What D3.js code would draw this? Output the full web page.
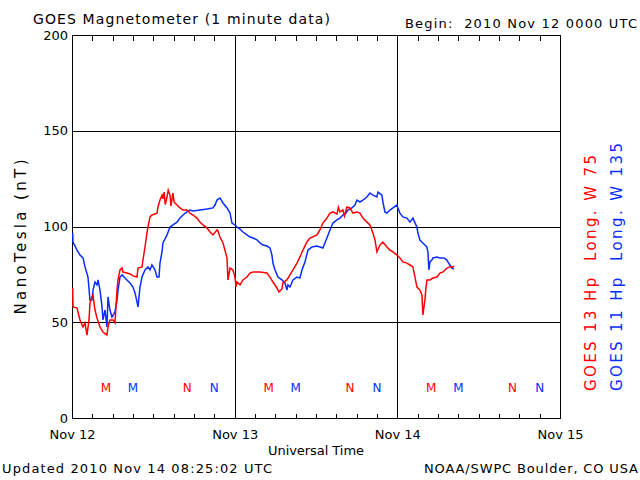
<!DOCTYPE html>
<html><head><meta charset="utf-8">
<script src="https://cdn.jsdelivr.net/npm/d3@7"></script>
<style>body{margin:0;background:#fff}svg{display:block}text{font-family:"DejaVu Sans",sans-serif}</style>
</head><body><svg id="c" width="640" height="480"></svg>
<script>
// hours since 2010 Nov 12 00:00 UTC
const goes13Hours = [0.1,0.15,0.74,1.18,1.62,1.92,2.21,2.51,2.65,2.95,3.1,3.39,3.69,4.13,4.57,5.16,5.31,5.6,6.05,6.34,6.64,6.79,7.08,7.38,7.52,8.11,8.56,9.0,9.59,9.74,10.33,10.47,10.77,11.06,11.21,11.51,11.8,12.54,12.69,12.98,13.28,13.42,13.6,13.75,14.02,14.2,14.46,14.6,14.9,15.05,15.2,15.49,15.93,16.38,16.96,17.41,17.85,18.44,18.88,19.33,19.92,20.36,20.8,21.39,21.54,21.83,22.28,22.87,23.01,23.31,23.75,24.04,24.2,24.34,24.79,25.22,25.81,26.26,26.7,27.73,28.76,29.21,29.65,30.24,30.53,30.98,31.12,31.71,32.16,32.6,33.19,33.63,34.07,34.66,35.11,36.14,36.58,37.02,37.61,38.06,38.5,39.09,39.3,39.53,39.97,40.2,40.56,41.0,41.45,42.04,42.48,42.92,43.51,43.96,44.4,44.7,44.99,45.43,45.87,46.46,46.91,47.35,47.94,48.38,48.82,49.41,49.86,50.3,50.6,50.89,51.33,51.63,51.77,52.07,52.2,52.36,52.81,53.25,53.84,54.28,54.72,55.31,55.76,56.2,56.35];
const goes13Values = [67.9,58.0,57.4,51.2,47.5,49.6,43.3,51.2,60.1,63.2,64.2,56.4,52.2,47.5,44.9,43.3,47.5,51.2,51.2,49.6,66.8,72.1,77.3,78.3,76.2,75.7,75.2,74.2,73.6,78.3,78.9,82.5,89.3,96.6,99.7,105.0,106.0,107.0,110.2,113.8,116.4,114.4,118.0,111.5,115.4,119.0,116.4,110.8,117.5,113.0,112.3,111.2,109.7,108.6,108.6,107.0,106.0,104.4,102.3,100.8,99.2,97.1,95.6,98.2,97.7,94.5,91.4,83.6,72.1,78.3,77.3,73.6,68.5,71.0,69.5,72.1,73.6,75.7,76.2,76.2,75.7,73.6,71.0,67.9,65.8,67.4,70.5,72.1,74.7,77.3,80.9,84.1,87.7,91.9,94.0,95.6,98.2,101.8,104.4,107.0,107.6,106.5,110.0,107.6,108.6,105.5,110.2,109.7,107.0,107.6,107.0,104.4,102.3,100.8,96.6,93.0,86.7,90.3,91.9,89.3,87.7,86.7,85.1,83.6,81.5,80.9,79.9,78.9,73.6,68.4,66.8,64.2,53.8,61.6,67.0,72.1,72.1,73.1,73.6,75.7,76.2,78.3,78.9,78.9,79.4];
const goes11Hours = [0.1,0.15,0.74,1.18,1.62,1.92,2.36,2.65,2.95,3.1,3.39,3.69,3.84,4.13,4.43,4.57,4.87,5.16,5.31,5.6,5.9,6.34,6.64,6.79,7.08,7.38,7.82,8.11,8.56,9.0,9.3,9.59,9.74,10.03,10.33,10.77,11.21,11.51,11.8,12.25,12.54,12.84,12.98,13.28,13.42,14.02,14.46,14.9,15.49,15.93,16.38,16.96,17.41,17.85,18.88,19.92,20.8,21.1,21.39,21.83,22.28,22.87,23.31,23.6,24.04,24.34,24.79,25.22,25.81,26.26,26.7,27.3,27.73,28.18,28.76,29.21,29.5,29.65,29.95,30.39,30.98,31.42,31.71,31.86,32.16,32.6,33.19,33.63,33.93,34.37,34.82,35.41,36.14,36.58,37.02,37.61,38.06,38.5,39.09,39.53,39.97,40.41,40.71,41.3,41.75,42.04,42.48,42.92,43.51,43.96,44.4,44.99,45.14,45.73,45.87,46.17,46.46,46.91,47.35,47.94,48.09,48.38,48.82,49.41,49.86,50.3,50.89,51.04,51.33,51.77,52.36,52.51,52.66,52.81,53.1,53.25,53.84,54.28,54.87,55.31,55.46,55.76,56.05,56.35];
const goes11Values = [96.6,91.9,87.7,85.1,83.6,78.9,73.6,61.6,61.6,66.8,71.0,69.5,72.1,66.8,58.0,51.2,56.4,47.5,63.2,56.4,52.7,55.4,61.6,66.8,73.6,74.7,73.1,72.1,70.5,68.4,65.3,60.6,58.0,68.4,73.6,77.3,78.9,77.3,79.9,77.3,73.6,73.6,80.9,86.7,91.4,95.6,99.7,100.8,102.3,104.4,106.0,107.6,108.6,108.1,108.6,109.1,109.7,111.2,113.8,114.9,112.3,109.7,107.0,101.8,100.8,99.7,98.7,97.1,95.6,94.5,94.0,93.0,91.4,90.3,89.8,88.8,85.1,80.9,77.3,73.6,72.1,70.5,66.8,69.5,68.4,72.1,73.6,73.1,77.3,81.5,87.7,89.3,89.8,89.3,88.8,94.0,98.2,101.8,103.4,104.4,106.0,107.0,108.6,109.7,111.2,113.8,112.8,113.8,115.4,117.5,116.4,115.4,118.0,116.4,112.8,107.6,107.0,108.6,109.7,111.2,109.7,107.0,105.0,104.4,102.3,104.4,99.7,96.6,92.9,91.4,89.3,86.7,77.3,81.5,82.5,83.6,84.1,83.6,83.6,82.5,81.5,79.9,78.3,77.8];
const yTicks = [0,50,100,150,200];
const dayTicks = [0,24,48,72];
const dayLabels = ["Nov 12","Nov 13","Nov 14","Nov 15"];
const markerLabels = ["M","M","N","N"];
const markerHours = [5,9,17,21];
const markerSeries = ["13","11","13","11"];

const colors = {"13":"#ff0000","11":"#0a2dff"};
const svg = d3.select("#c");
const L=72,R=560,T=35,B=418;
const x = d3.scaleLinear().domain([0,72]).range([L,R]);
const y = d3.scaleLinear().domain([0,200]).range([B,T]);

// grid
const g = svg.append("g").attr("shape-rendering","crispEdges");
g.selectAll(".hg").data(yTicks.filter(v=>v>0&&v<200)).join("line")
  .attr("x1",L).attr("x2",R).attr("y1",d=>Math.round(y(d))+0.5).attr("y2",d=>Math.round(y(d))+0.5)
  .attr("stroke","#000");
g.selectAll(".vg").data(dayTicks.filter(v=>v>0&&v<72)).join("line")
  .attr("y1",T).attr("y2",B).attr("x1",d=>Math.round(x(d))+0.5).attr("x2",d=>Math.round(x(d))+0.5)
  .attr("stroke","#000");

// axes (minor ticks every 3h)
const minor = d3.range(0,73,3);
const topAx = d3.axisTop(x).tickValues(minor).tickSize(-5).tickFormat("");
const botAx = d3.axisBottom(x).tickValues(minor).tickSize(-5).tickFormat("");
svg.append("g").attr("transform",`translate(0,${T+0.5})`).call(topAx).call(a=>a.select(".domain").remove()).selectAll("line").attr("shape-rendering","crispEdges");
svg.append("g").attr("transform",`translate(0,${B+0.5})`).call(botAx).call(a=>a.select(".domain").remove()).selectAll("line").attr("shape-rendering","crispEdges");
const leftAx = d3.axisLeft(y).tickValues(yTicks).tickSize(0).tickPadding(4);
svg.append("g").attr("transform",`translate(${L},0)`).call(leftAx)
  .call(a=>a.select(".domain").remove())
  .selectAll("text").attr("font-size",13).attr("fill","#000").attr("font-family","DejaVu Sans");
const xLab = d3.axisBottom(x).tickValues(dayTicks).tickSize(0).tickPadding(12).tickFormat((d,i)=>dayLabels[i]);
svg.append("g").attr("transform",`translate(0,${B})`).call(xLab)
  .call(a=>a.select(".domain").remove())
  .selectAll("text").attr("font-size",13).attr("fill","#000").attr("font-family","DejaVu Sans");

svg.append("rect").attr("x",L+0.5).attr("y",T+0.5).attr("width",R-L).attr("height",B-T)
  .attr("fill","none").attr("stroke","#000").attr("shape-rendering","crispEdges");

// series
const line = d3.line().x(d=>x(d[0])).y(d=>y(d[1]));
svg.append("path").datum(goes11Hours.map((h,i)=>[h,goes11Values[i]]))
  .attr("d",line).attr("fill","none").attr("stroke",colors["11"]).attr("stroke-width",1.5);
svg.append("path").datum(goes13Hours.map((h,i)=>[h,goes13Values[i]]))
  .attr("d",line).attr("fill","none").attr("stroke",colors["13"]).attr("stroke-width",1.5);

// M/N markers
const marks=[];
[0,24,48].forEach(off=>markerHours.forEach((h,i)=>marks.push({h:h+off,t:markerLabels[i],s:markerSeries[i]})));
svg.selectAll(".mk").data(marks).join("text").attr("x",d=>x(d.h)).attr("y",392)
  .attr("text-anchor","middle").attr("font-size",12).attr("fill",d=>colors[d.s]).text(d=>d.t);

// texts
svg.append("text").attr("x",33).attr("y",24).attr("font-size",14).attr("textLength",297).text("GOES Magnetometer (1 minute data)");
svg.append("text").attr("x",405).attr("y",28).attr("font-size",13).attr("textLength",232).attr("xml:space","preserve").text("Begin:  2010 Nov 12 0000 UTC");
svg.append("text").attr("x",316).attr("y",455).attr("text-anchor","middle").attr("font-size",13).attr("textLength",96).text("Universal Time");
svg.append("text").attr("x",2).attr("y",473).attr("font-size",13).attr("textLength",270).text("Updated 2010 Nov 14 08:25:02 UTC");
svg.append("text").attr("x",638).attr("y",473).attr("text-anchor","end").attr("font-size",13).attr("textLength",214).text("NOAA/SWPC Boulder, CO USA");
svg.append("text").attr("transform","translate(26,237) rotate(-90)").attr("text-anchor","middle").attr("font-size",15).attr("textLength",155).text("NanoTesla (nT)");
svg.append("text").attr("transform","translate(596,391) rotate(-90)").attr("font-size",15).attr("fill",colors["13"]).attr("textLength",236).attr("xml:space","preserve").text("GOES 13 Hp  Long. W 75");
svg.append("text").attr("transform","translate(622,391) rotate(-90)").attr("font-size",15).attr("fill",colors["11"]).attr("textLength",248).attr("xml:space","preserve").text("GOES 11 Hp  Long. W 135");
</script></body></html>
